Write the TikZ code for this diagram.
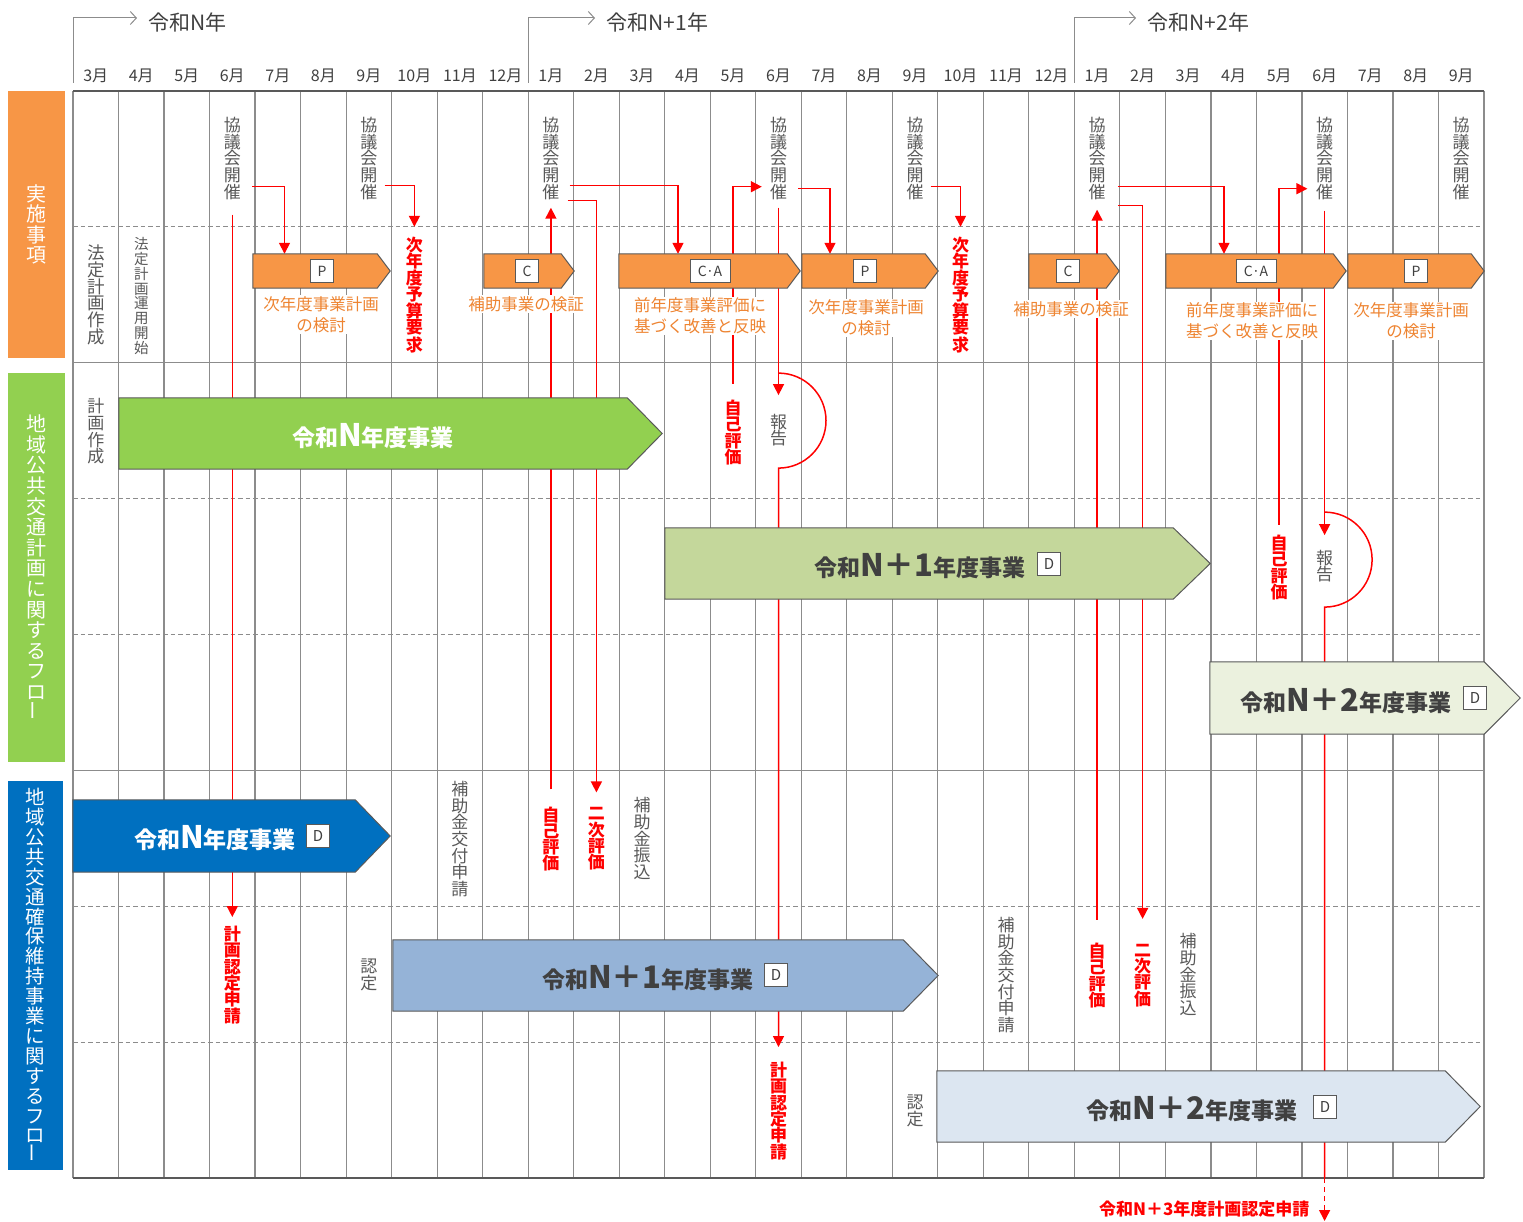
\documentclass[tikz,border=0pt]{standalone}
\usepackage{fontspec}
\setmainfont{Noto Sans CJK JP}
\usepackage{graphicx}
\usetikzlibrary{arrows.meta,calc}

\definecolor{JisshiClr}{HTML}{F79646}
\definecolor{KeikakuClr}{HTML}{92D050}
\definecolor{KakuhoClr}{HTML}{0070C0}
\definecolor{GreenOneClr}{HTML}{C4D79B}
\definecolor{GreenTwoClr}{HTML}{EBF1DE}
\definecolor{BlueOneClr}{HTML}{95B3D7}
\definecolor{BlueTwoClr}{HTML}{DCE6F1}
\definecolor{EdgeClr}{HTML}{595959}
\definecolor{GridClr}{HTML}{8C8C8C}
\definecolor{TxtClr}{HTML}{595959}
\definecolor{DarkTxtClr}{HTML}{404040}
\definecolor{OrgTxtClr}{HTML}{EE8431}
\definecolor{FlowClr}{HTML}{FF0000}

\pgfdeclarelayer{grid}
\pgfdeclarelayer{flow}
\pgfdeclarelayer{box}
\pgfsetlayers{grid,flow,box,main}

\newcommand{\ookii}[1]{{\fontsize{31}{31}\selectfont #1}}

% bar with a pointed right end: name, centre x, centre y, width, height, tip, fill
\newcommand{\jigyobar}[7]{%
  \node[inner sep=0,minimum width=#4pt,minimum height=#5pt] (#1) at (#2,#3) {};
  \begin{pgfonlayer}{box}
    \filldraw[fill=#7,draw=EdgeClr,line width=1pt] (#1.north west) -- ([xshift=-#6pt]#1.north east)
      -- (#1.east) -- ([xshift=-#6pt]#1.south east) -- (#1.south west) -- cycle;
  \end{pgfonlayer}}

\begin{document}
\begin{tikzpicture}[x=1pt,y=-1pt,
  tate/.style={align=center,inner sep=1pt,text=TxtClr,font=\fontsize{17}{16.6}\selectfont},
  aka/.style={align=center,inner sep=1pt,text=FlowClr,font=\bfseries\fontsize{17}{16.3}\selectfont},
  flow/.style={draw=FlowClr,line width=1.5pt,-{Triangle[length=11pt,width=11pt]}},
  flowline/.style={draw=FlowClr,line width=1.5pt},
  gridline/.style={draw=GridClr,line width=1.2pt},
  gridedge/.style={draw=EdgeClr,line width=1.5pt},
  gridcut/.style={draw=GridClr,line width=1.2pt,dash pattern=on 4.5pt off 3pt},
  tag/.style={draw=EdgeClr,fill=white,line width=1pt,minimum width=23pt,minimum height=23pt,
    inner sep=0,text=DarkTxtClr,font=\fontsize{14}{14}\selectfont},
  dtag/.style={tag,font=\fontsize{15}{15}\selectfont},
  orgtxt/.style={align=center,fill=white,inner sep=1pt,text=OrgTxtClr,font=\fontsize{16.5}{21}\selectfont},
  bigtxt/.style={inner sep=0,font=\bfseries\fontsize{23}{23}\selectfont},
  flowlbl/.style={fill=#1,inner sep=0,text=white,align=center,font=\fontsize{20}{20.6}\selectfont},
  month/.style={text=DarkTxtClr,font=\fontsize{16}{16}\selectfont},
  nendo/.style={anchor=west,text=DarkTxtClr,font=\fontsize{21}{21}\selectfont},
  nendobr/.style={draw=GridClr,line width=1pt,-{Straight Barb[length=6pt,width=13pt]}}]

\useasboundingbox (0,0) rectangle (1523,1222);
\begin{pgfonlayer}{grid}
\fill[white] (0,0) rectangle (1523,1222);
\end{pgfonlayer}

% left column
\node[flowlbl=JisshiClr,minimum width=57pt,minimum height=267pt] (lbl1) at (36.5,224.5) {実\\施\\事\\項};
\node[flowlbl=KeikakuClr,minimum width=57pt,minimum height=389pt] (lbl2) at (36.5,567.5)
  {地\\域\\公\\共\\交\\通\\計\\画\\に\\関\\す\\る\\フ\\ロ\\\rotatebox{90}{ー}};
\node[flowlbl=KakuhoClr,minimum width=55pt,minimum height=389pt,font=\fontsize{19.5}{19.9}\selectfont] (lbl3) at (35.5,975.5)
  {地\\域\\公\\共\\交\\通\\確\\保\\維\\持\\事\\業\\に\\関\\す\\る\\フ\\ロ\\\rotatebox{90}{ー}};

% grid
\begin{pgfonlayer}{grid}
\foreach \i in {0,...,31}
  \draw[gridline] ({73+45.516*\i},91) coordinate (g\i) -- ({73+45.516*\i},1178);
\foreach \j in {1,3,4,6,7}
  \draw[gridcut] (73,{91+135.875*\j}) -- (1484,{91+135.875*\j});
\draw[gridline] (73,362.75) -- (1484,362.75);
\draw[gridline] (73,770.4) -- (1484,770.4);
\draw[gridedge] (73,91) -- (1484,91);
\draw[gridedge] (73,1178) coordinate (gb) -- (1484,1178);
\end{pgfonlayer}
\coordinate (pb) at (0,1221);

\foreach \m [count=\i from 0] in {3,4,5,6,7,8,9,10,11,12,1,2,3,4,5,6,7,8,9,10,11,12,1,2,3,4,5,6,7,8,9}
  \node[month] (m\i) at ({73+45.516*(\i+0.5)},76) {\m 月};

\node[nendo] (nenN) at (145,22) {令和N年};
\node[nendo] (nenN1) at (603,22) {令和N+1年};
\node[nendo] (nenN2) at (1144,22) {令和N+2年};
\draw[nendobr] ([yshift=8pt]g0) |- ([shift={(-8pt,4pt)}]nenN.west);
\draw[nendobr] ([yshift=8pt]g10) |- ([shift={(-8pt,4pt)}]nenN1.west);
\draw[nendobr] ([yshift=8pt]g22) |- ([shift={(-8pt,4pt)}]nenN2.west);

% row 1
\node[tate] (k1) at (232.3,158.5) {協\\議\\会\\開\\催};
\node[tate] (k2) at (368.9,158.5) {協\\議\\会\\開\\催};
\node[tate] (k3) at (550.9,158.5) {協\\議\\会\\開\\催};
\node[tate] (k4) at (778.5,158.5) {協\\議\\会\\開\\催};
\node[tate] (k5) at (915.0,158.5) {協\\議\\会\\開\\催};
\node[tate] (k6) at (1097.1,158.5) {協\\議\\会\\開\\催};
\node[tate] (k7) at (1324.6,158.5) {協\\議\\会\\開\\催};
\node[tate] (k8) at (1461.2,158.5) {協\\議\\会\\開\\催};

% row 2
\node[tate,font=\fontsize{17.5}{16.7}\selectfont] (hoteisaku) at (95.8,295) {法\\定\\計\\画\\作\\成};
\node[tate,font=\fontsize{14.5}{14.75}\selectfont] (hoteiunyo) at (141.3,296) {法\\定\\計\\画\\運\\用\\開\\始};
\node[aka] (yosan1) at (414.4,295) {次\\年\\度\\予\\算\\要\\求};
\node[aka] (yosan2) at (960.5,295) {次\\年\\度\\予\\算\\要\\求};

\jigyobar{p1}{321.5}{271}{137}{34}{13}{JisshiClr}
\jigyobar{c1}{529}{271}{90}{34}{13}{JisshiClr}
\jigyobar{ca1}{709.5}{271}{181}{34}{13}{JisshiClr}
\jigyobar{p2}{870}{271}{136}{34}{13}{JisshiClr}
\jigyobar{c2}{1074}{271}{90}{34}{13}{JisshiClr}
\jigyobar{ca2}{1256}{271}{180}{34}{13}{JisshiClr}
\jigyobar{p3}{1416}{271}{136}{34}{13}{JisshiClr}

\node[tag] (p1tag) at (322,271) {P};
\node[tag] (c1tag) at (527,271) {C};
\node[tag,minimum width=40pt] (ca1tag) at (710,271) {C·A};
\node[tag] (p2tag) at (865,271) {P};
\node[tag] (c2tag) at (1068,271) {C};
\node[tag,minimum width=40pt] (ca2tag) at (1256,271) {C·A};
\node[tag] (p3tag) at (1416,271) {P};

\node[orgtxt] (p1txt) at (321,314.5) {次年度事業計画\\の検討};
\node[orgtxt] (c1txt) at (526,304) {補助事業の検証};
\node[orgtxt] (ca1txt) at (700,316) {前年度事業評価に\\基づく改善と反映};
\node[orgtxt] (p2txt) at (866,318) {次年度事業計画\\の検討};
\node[orgtxt] (c2txt) at (1071,309) {補助事業の検証};
\node[orgtxt] (ca2txt) at (1252,321) {前年度事業評価に\\基づく改善と反映};
\node[orgtxt] (p3txt) at (1411,321) {次年度事業計画\\の検討};

% rows 3 to 5
\node[tate] (keikakusaku) at (95.8,431.5) {計\\画\\作\\成};
\node[aka] (jiko2) at (733,432.5) {自\\己\\評\\価};
\node[tate] (hokoku1) at (778.5,430) {報\\告};
\node[aka] (jiko4) at (1279.1,567.5) {自\\己\\評\\価};
\node[tate] (hokoku2) at (1324.6,566) {報\\告};

\jigyobar{nN}{390.5}{433.5}{543}{71}{35}{KeikakuClr}
\node[bigtxt,text=white] (nNtxt) at (373,436) {令和\ookii{N}年度事業};
\jigyobar{nN1}{937.5}{563.5}{545}{71}{37}{GreenOneClr}
\node[bigtxt,text=DarkTxtClr] (nN1txt) at (920,566) {令和\ookii{N＋1}年度事業};
\node[dtag] (nN1d) at (1049,564) {D};
\jigyobar{nN2}{1365}{698}{310}{72}{36}{GreenTwoClr}
\node[bigtxt,text=DarkTxtClr] (nN2txt) at (1346,701) {令和\ookii{N＋2}年度事業};
\node[dtag] (nN2d) at (1475,698) {D};

% rows 6 to 8
\node[tate] (kofu1) at (459.9,839) {補\\助\\金\\交\\付\\申\\請};
\node[aka] (jiko1) at (550.9,839) {自\\己\\評\\価};
\node[aka] (niji1) at (596.4,839) {二\\次\\評\\価};
\node[tate] (furikomi1) at (642,838.5) {補\\助\\金\\振\\込};
\node[aka] (shinsei1) at (232.3,975) {計\\画\\認\\定\\申\\請};
\node[tate] (nintei1) at (368.9,975) {認\\定};
\node[tate] (kofu2) at (1006,975) {補\\助\\金\\交\\付\\申\\請};
\node[aka] (jiko3) at (1097.1,975.5) {自\\己\\評\\価};
\node[aka] (niji2) at (1142.6,975.5) {二\\次\\評\\価};
\node[tate] (furikomi2) at (1188.1,974.5) {補\\助\\金\\振\\込};
\node[aka] (shinsei2) at (778.5,1111) {計\\画\\認\\定\\申\\請};
\node[tate] (nintei2) at (915,1111) {認\\定};
\node[anchor=east,text=FlowClr,font=\bfseries\fontsize{17}{17}\selectfont] (shinsei3) at (1313,1209) {令和N＋3年度計画認定申請};

\jigyobar{hN}{231.5}{836}{317}{72}{35}{KakuhoClr}
\node[bigtxt,text=white] (hNtxt) at (215,838) {令和\ookii{N}年度事業};
\node[dtag] (hNd) at (318,836) {D};
\jigyobar{hN1}{665.5}{975.5}{545}{71}{35}{BlueOneClr}
\node[bigtxt,text=DarkTxtClr] (hN1txt) at (648,978) {令和\ookii{N＋1}年度事業};
\node[dtag] (hN1d) at (776,975) {D};
\jigyobar{hN2}{1208.5}{1106.5}{543}{71}{35}{BlueTwoClr}
\node[bigtxt,text=DarkTxtClr] (hN2txt) at (1192,1109) {令和\ookii{N＋2}年度事業};
\node[dtag] (hN2d) at (1325,1107) {D};

% red flows
\begin{pgfonlayer}{flow}
\draw[flow] ([shift={(10pt,14pt)}]k1.south east) -| ([xshift=-37pt]p1.north);
\draw[flow] ([yshift=-14pt]k1.south) -- ([yshift=8pt]shinsei1.north);
\draw[flow] ([shift={(6pt,15pt)}]k2.south east) -| ([yshift=9pt]yosan1.north);
\draw[flow] ([shift={(9pt,15pt)}]k3.south east) -| ([xshift=-31.5pt]ca1.north);
\draw[flow] ([xshift=7pt]k3.south east) -| ([yshift=14pt]niji1.north);
\draw[flow] ([yshift=16pt]jiko1.north) -- ([yshift=-7pt]k3.south);
\draw[flow] ([yshift=15pt]jiko2.north) |- ([shift={(-7pt,14pt)}]k4.south west);
\draw[flow] ([shift={(10pt,12pt)}]k4.south east) -| ([xshift=-40pt]p2.north);
\draw[flow] ([yshift=-7pt]k4.south) -- ([yshift=17.5pt]hokoku1.north);
\draw[flow] ([yshift=39.5pt]hokoku1.north) arc[start angle=-90,end angle=90,radius=47.5]
  -- ([yshift=14pt]shinsei2.north);
\draw[flow] ([shift={(6pt,14pt)}]k5.south east) -| ([yshift=9pt]yosan2.north);
\draw[flow] ([shift={(11pt,14pt)}]k6.south east) -| ([xshift=-32pt]ca2.north);
\draw[flow] ([shift={(11pt,-5pt)}]k6.south east) -| ([yshift=24pt]niji2.north);
\draw[flow] ([yshift=22pt]jiko3.north) -- ([yshift=-9pt]k6.south);
\draw[flow] ([yshift=9pt]jiko4.north) |- ([shift={(-7.5pt,12pt)}]k7.south west);
\draw[flow] ([yshift=-10pt]k7.south) -- ([yshift=13.5pt]hokoku2.north);
\draw[flowline] ([yshift=36.5pt]hokoku2.north) arc[start angle=-90,end angle=90,radius=47.5] -- (k7 |- gb);
\draw[flow,dash pattern=on 5pt off 4pt] (k7 |- gb) -- (k7 |- pb);
\end{pgfonlayer}

\end{tikzpicture}
\end{document}
